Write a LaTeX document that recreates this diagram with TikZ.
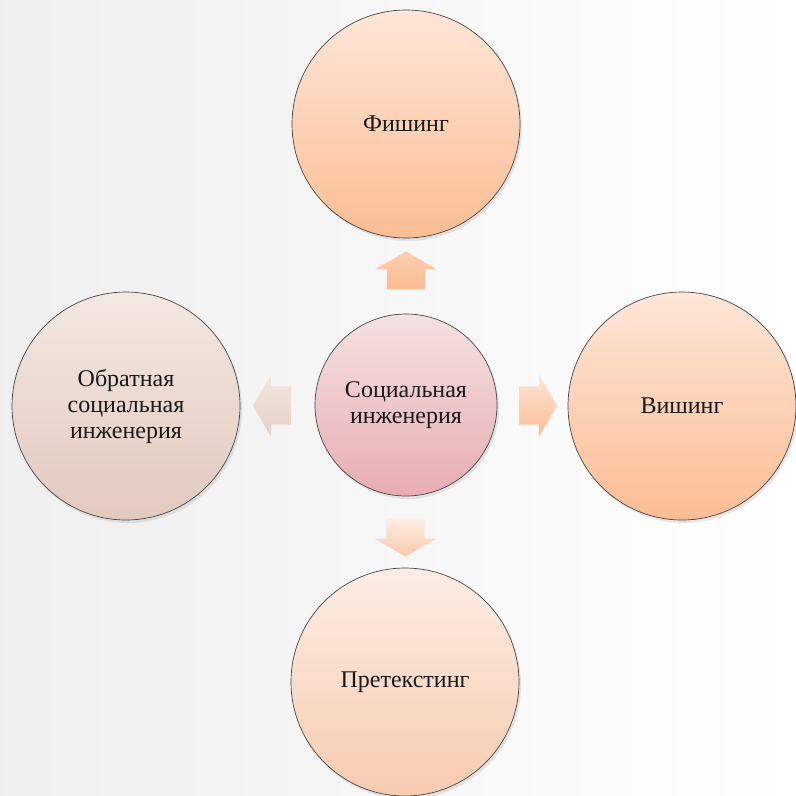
\documentclass[tikz,border=0pt]{standalone}
\usepackage{fontspec}
\setmainfont{Liberation Serif}
\usetikzlibrary{shapes.arrows,shadows,calc}

\definecolor{hubtop}{HTML}{F5E1E2}
\definecolor{hubbot}{HTML}{E7ADB3}
\definecolor{peachtop}{HTML}{FEE6D8}
\definecolor{peachbot}{HTML}{FBBD93}
\definecolor{palepeachtop}{HTML}{FCEDE4}
\definecolor{palepeachbot}{HTML}{F7CBB0}
\definecolor{beigetop}{HTML}{F3E8E2}
\definecolor{beigebot}{HTML}{E2C9BE}

\tikzset{
  topic/.style={circle, draw=gray!55!black, line width=0.7pt, minimum size=228pt,
    inner sep=0pt, align=center, text=black!90,
    font=\fontsize{24}{26}\selectfont,
    drop shadow={opacity=0.18, shadow xshift=2pt, shadow yshift=-3pt}},
  hub/.style={topic, minimum size=182pt},
  blockarrow/.style={single arrow, minimum height=38pt, minimum width=62pt,
    single arrow head extend=12pt, single arrow tip angle=120, inner sep=0pt},
  harrow/.style={blockarrow, inner ysep=19pt},
  varrow/.style={blockarrow, inner xsep=19pt}
}

\begin{document}
\begin{tikzpicture}[x=1pt, y=-1pt]
  \useasboundingbox (0,0) rectangle (796,796);
  \clip (0,0) rectangle (796,796);
  \fill[left color=gray!13, right color=white] (0,0) rectangle (796,796);

  % circles
  \node[hub, top color=hubtop, bottom color=hubbot] (hub) at (406,405) {Социальная\\инженерия};
  \node[topic, top color=peachtop, bottom color=peachbot] (phish) at (406,124) {Фишинг};
  \node[topic, top color=peachtop, bottom color=peachbot] (vish) at (682,406) {Вишинг};
  \node[topic, top color=palepeachtop, bottom color=palepeachbot] (pretext) at (405,682) {Претекстинг};
  \node[topic, top color=beigetop, bottom color=beigebot] (reverse) at (126,406) {Обратная\\социальная\\инженерия};

  % arrows between the circles
  \node[varrow, shape border rotate=90, top color=peachtop!40!peachbot, bottom color=peachbot]
    (upa) at ($(hub.north)!0.5!(phish.south)$) {};
  \node[harrow, shape border rotate=0, top color=peachtop, bottom color=peachbot]
    (righta) at ($(hub.east)!0.5!(vish.west)$) {};
  \node[varrow, shape border rotate=270, top color=palepeachtop, bottom color=palepeachbot!90!peachbot]
    (downa) at ($(hub.south)!0.5!(pretext.north)$) {};
  \node[harrow, shape border rotate=180, top color=beigetop, bottom color=beigebot!80!beigetop]
    (lefta) at ($(hub.west)!0.5!(reverse.east)$) {};
\end{tikzpicture}
\end{document}
